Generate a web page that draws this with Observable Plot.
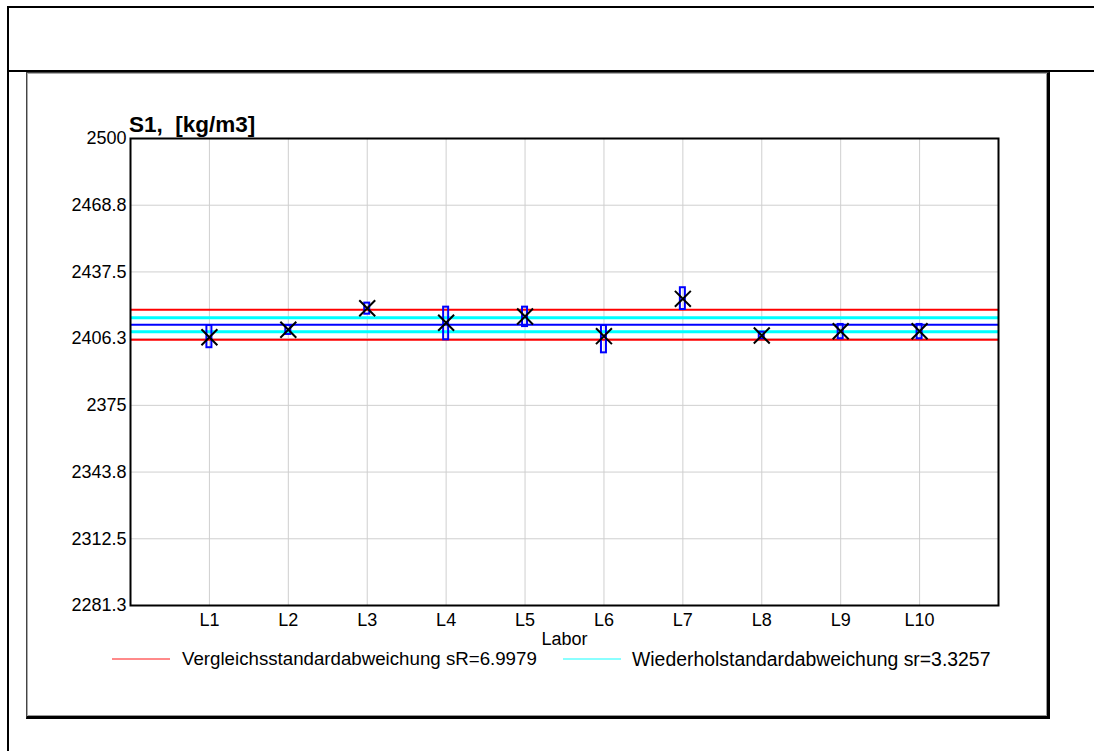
<!DOCTYPE html>
<html>
<head>
<meta charset="utf-8">
<script src="https://cdn.jsdelivr.net/npm/d3@7"></script>
<script src="https://cdn.jsdelivr.net/npm/@observablehq/plot@0.6"></script>
<style>
  html, body { margin: 0; padding: 0; background: #fff; }
  #page { position: relative; width: 1094px; height: 751px; overflow: hidden;
          font-family: "Liberation Sans", Arial, sans-serif; color: #000; }
  .bar { position: absolute; background: #000; }
  #panel { position: absolute; left: 26px; top: 72px; width: 1020px; height: 643px;
           border-left: 1px solid #444; border-top: 1px solid #444;
           border-right: 3px solid #000; border-bottom: 3px solid #000;
           box-shadow: inset 1px 1px 0 #aaa, inset -1px -1px 0 #999; }
  #title { position: absolute; left: 129px; top: 114px; font-size: 22.5px; line-height: 22px;
           font-weight: bold; white-space: pre; z-index: 2; }
  #chart { position: absolute; left: 40px; top: 100px; z-index: 1; }
  .key { position: absolute; top: 650px; font-size: 18.7px; line-height: 18px; white-space: pre; }
  .swatch { position: absolute; top: 658px; width: 58px; height: 2px; }
</style>
</head>
<body>
<div id="page">
  <div class="bar" style="left:7px;top:6px;width:1087px;height:2px"></div>
  <div class="bar" style="left:7px;top:6px;width:2px;height:745px"></div>
  <div class="bar" style="left:7px;top:70px;width:1087px;height:2px"></div>
  <div id="panel"></div>
  <div id="chart"></div>
  <div id="title"></div>
  <div class="swatch" style="left:112px;background:#ff8a8a"></div>
  <div class="key" id="keyR" style="left:182px"></div>
  <div class="swatch" style="left:563px;background:#8affff"></div>
  <div class="key" id="keyr" style="left:632px;font-size:19.4px"></div>
</div>
<script>
// Laboratories and their results for S1 (density, kg/m3)
const labs = ["L1", "L2", "L3", "L4", "L5", "L6", "L7", "L8", "L9", "L10"];
const labMeans = [2406.9, 2410.4, 2420.5, 2413.7, 2416.6, 2407.4, 2424.9, 2407.7, 2409.7, 2409.7];
const repLow  = [2402.0, 2408.2, 2417.7, 2405.7, 2411.9, 2399.6, 2419.9, 2406.2, 2406.2, 2406.2];
const repHigh = [2412.4, 2412.4, 2422.9, 2421.0, 2421.0, 2412.4, 2430.1, 2409.3, 2412.9, 2412.9];

// Precision figures
const sR = 6.9979;   // reproducibility standard deviation
const sr = 3.3257;   // repeatability standard deviation

// Axis
const yTicks = [2281.25, 2312.5, 2343.75, 2375, 2406.25, 2437.5, 2468.75, 2500];
const yDomain = [2281.25, 2500];
const titleText = "S1,  [kg/m3]";
const xLabel = "Labor";

const positions = labs.map((_, i) => i + 1);
const rows = labs.map((lab, i) => ({lab, pos: i + 1, mean: labMeans[i], lo: repLow[i], hi: repHigh[i]}));
const grand = d3.mean(labMeans);

const fmt = d => d3.format(".1f")(d).replace(/\.0$/, "");

document.getElementById("title").textContent = titleText;
document.getElementById("keyR").textContent = `Vergleichsstandardabweichung sR=${sR}`;
document.getElementById("keyr").textContent = `Wiederholstandardabweichung sr=${sr}`;

const chart = Plot.plot({
  width: 1000,
  height: 560,
  marginLeft: 90,
  marginRight: 42,
  marginTop: 38,
  marginBottom: 55,
  x: {domain: [0, labs.length + 1]},
  y: {domain: yDomain},
  style: {fontFamily: "'Liberation Sans', Arial, sans-serif", fontSize: "18px", color: "#000", background: "transparent", overflow: "visible"},
  marks: [
    Plot.gridX(positions, {stroke: "#cfcfcf", strokeOpacity: 1}),
    Plot.gridY(yTicks, {stroke: "#cfcfcf", strokeOpacity: 1}),
    Plot.ruleY([grand - sR, grand + sR], {stroke: "#ff0000", strokeWidth: 2}),
    Plot.ruleY([grand - sr, grand + sr], {stroke: "#00ffff", strokeWidth: 3}),
    Plot.ruleY([grand], {stroke: "#0000ff", strokeWidth: 2}),
    Plot.rect(rows, {x1: "pos", x2: "pos", y1: "lo", y2: "hi", insetLeft: -2.5, insetRight: -2.5,
                     fill: "none", stroke: "#0000ff", strokeWidth: 2}),
    Plot.dot(rows, {x: "pos", y: "mean", symbol: "times", r: 7.3, stroke: "#000", strokeWidth: 2}),
    Plot.axisX(positions, {tickFormat: i => labs[i - 1], tickSize: 0, tickPadding: 8, label: null}),
    Plot.axisY(yTicks, {tickFormat: fmt, tickSize: 0, tickPadding: 4, label: null}),
    Plot.text([xLabel], {frameAnchor: "bottom", dy: 39, fill: "#000"}),
    Plot.frame({stroke: "#000", strokeWidth: 2})
  ]
});
document.getElementById("chart").appendChild(chart);
</script>
</body>
</html>
